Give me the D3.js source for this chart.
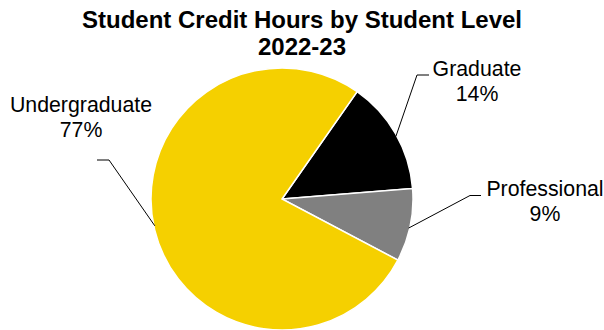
<!DOCTYPE html>
<html><head><meta charset="utf-8">
<script src="https://cdn.jsdelivr.net/npm/d3@7"></script>
<style>body{margin:0;background:#fff}svg{display:block}text{font-family:"Liberation Sans",Arial,sans-serif}</style>
</head><body>
<script>
const categories = ["Graduate", "Professional", "Undergraduate"];
const values = [14, 9, 77];
const colors = ["#000000", "#808080", "#F5D000"];
const titleLines = ["Student Credit Hours by Student Level", "2022-23"];

const W = 604, H = 330;
const cx = 282, cy = 199, r = 131;
const svg = d3.select("body").append("svg").attr("width", W).attr("height", H);

svg.selectAll("text.title").data(titleLines).join("text")
  .attr("class", "title").attr("x", W / 2).attr("y", (d, i) => 28 + i * 26.5)
  .attr("text-anchor", "middle").attr("font-weight", "bold").attr("font-size", 24)
  .text(d => d);

const start = 35 * Math.PI / 180;
const pie = d3.pie().sort(null).value(d => d).startAngle(start).endAngle(start + 2 * Math.PI);
const arcs = pie(values);
const arc = d3.arc().innerRadius(0).outerRadius(r);
const g = svg.append("g").attr("transform", `translate(${cx},${cy})`);
g.selectAll("path").data(arcs).join("path")
  .attr("d", arc).attr("fill", (d, i) => colors[i])
  .attr("stroke", "#fff").attr("stroke-width", 1.5);

// label positions (relative to pie center), leader elbows, and anchor angles on the rim (degrees)
const labelPos = [[195, -123], [263, -3], [-201, -87]];
const elbows = [[[147, -124], [135, -124]], [[199, -3.5], [188, -3.5]], [[-185, -39], [-173, -39]]];
const anchorDeg = [61.2, 102.9, 258.1];

categories.forEach((c, i) => {
  const ang = anchorDeg[i] * Math.PI / 180;
  const ax = (r - 1) * Math.sin(ang), ay = -(r - 1) * Math.cos(ang);
  const pts = [elbows[i][0], elbows[i][1], [ax, ay]];
  g.append("path").attr("d", d3.line()(pts)).attr("fill", "none")
    .attr("stroke", "#000").attr("stroke-width", 1);
  const t = g.append("text").attr("text-anchor", "middle").attr("font-size", 21.3).attr("fill", "#000");
  t.append("tspan").attr("x", labelPos[i][0]).attr("y", labelPos[i][1]).text(c);
  t.append("tspan").attr("x", labelPos[i][0]).attr("y", labelPos[i][1] + 25).text(d3.format(".0f")(values[i]) + "%");
});
</script>
</body></html>
